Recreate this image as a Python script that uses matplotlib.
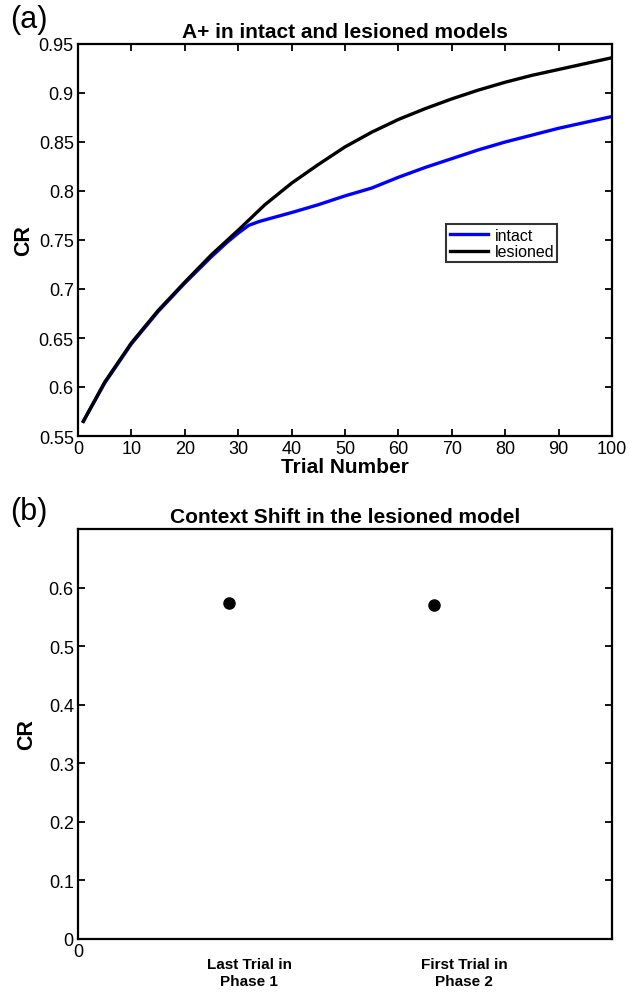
import matplotlib
matplotlib.use("Agg")
import matplotlib.pyplot as plt
import matplotlib.transforms as mtransforms

plt.rcParams['font.family'] = ['Liberation Sans', 'DejaVu Sans']

# ---- Panel (a) data ----
trials_lesioned = [1, 5, 10, 15, 20, 25, 30, 35, 40, 45, 50, 55, 60, 65, 70, 75, 80, 85, 90, 95, 100]
cr_lesioned = [0.565, 0.605, 0.645, 0.678, 0.707, 0.735, 0.760, 0.786, 0.808, 0.827, 0.845,
               0.860, 0.873, 0.884, 0.894, 0.903, 0.911, 0.918, 0.924, 0.930, 0.936]
trials_intact = [1, 5, 10, 15, 20, 25, 28, 30, 32, 34, 36, 40, 45, 50, 55, 60, 65, 70, 75, 80, 85, 90, 95, 100]
cr_intact = [0.565, 0.604, 0.644, 0.677, 0.706, 0.733, 0.748, 0.757, 0.765, 0.769, 0.772, 0.778,
             0.786, 0.795, 0.803, 0.814, 0.824, 0.833, 0.842, 0.850, 0.857, 0.864, 0.870, 0.876]
xticks_a = [0, 10, 20, 30, 40, 50, 60, 70, 80, 90, 100]
yticks_a = [0.55, 0.6, 0.65, 0.7, 0.75, 0.8, 0.85, 0.9, 0.95]
yticklabels_a = ['0.55', '0.6', '0.65', '0.7', '0.75', '0.8', '0.85', '0.9', '0.95']

# ---- Panel (b) data ----
conditions = ['Last Trial in\nPhase 1', 'First Trial in\nPhase 2']
cond_pos = [0.85, 2.0]
label_pos = [0.963, 2.17]
cr_shift = [0.574, 0.571]
yticks_b = [0, 0.1, 0.2, 0.3, 0.4, 0.5, 0.6]
yticklabels_b = ['0', '0.1', '0.2', '0.3', '0.4', '0.5', '0.6']

W, H = 640, 1003
fig = plt.figure(figsize=(W / 100, H / 100), dpi=100)

def rect(l, t, r, b):
    return [l / W, 1 - b / H, (r - l) / W, (b - t) / H]

# Panel (a)
ax1 = fig.add_axes(rect(78, 45, 612, 437))
ax1.plot(trials_intact, cr_intact, color='#0000ff', lw=2.4, label='intact')
ax1.plot(trials_lesioned, cr_lesioned, color='black', lw=2.4, label='lesioned')
ax1.set_xlim(0, 100)
ax1.set_ylim(0.55, 0.95)
ax1.set_xticks(xticks_a)
ax1.set_yticks(yticks_a)
ax1.set_yticklabels(yticklabels_a)
ax1.tick_params(direction='in', top=True, right=True, length=5, width=1.3,
                labelsize=13, pad=3)
for s in ax1.spines.values():
    s.set_linewidth(1.6)
ax1.set_xlabel('Trial Number', fontsize=15, fontweight='bold', labelpad=0)
ax1.set_ylabel('CR', fontsize=15.5, fontweight='bold', labelpad=3)
ax1.set_title('A+ in intact and lesioned models', fontsize=15, fontweight='bold', pad=5)
leg = ax1.legend(loc='lower left', bbox_to_anchor=(0.69, 0.443), fontsize=11.5,
                 frameon=True, fancybox=False, handlelength=2.4, handletextpad=0.4,
                 borderpad=0.2, labelspacing=0.1, borderaxespad=0)
leg.get_frame().set_edgecolor('black')
leg.get_frame().set_linewidth(1.5)
fig.text(10 / W, 1 - 20 / H, '(a)', fontsize=22, va='center', ha='left')

# Panel (b)
ax2 = fig.add_axes(rect(78, 530, 612, 940))
ax2.plot(cond_pos, cr_shift, 'o', color='black', markersize=8)
ax2.set_xlim(0, 3)
ax2.set_ylim(0, 0.7)
ax2.set_yticks(yticks_b)
ax2.set_yticklabels(yticklabels_b)
ax2.set_xticks([0])
ax2.set_xticklabels(['0'])
ax2.tick_params(axis='y', direction='in', right=True, length=5, width=1.3, labelsize=13, pad=3)
ax2.tick_params(axis='x', length=0, labelsize=13, pad=3)
for s in ax2.spines.values():
    s.set_linewidth(1.6)
ax2.set_ylabel('CR', fontsize=15.5, fontweight='bold', labelpad=8)
ax2.set_title('Context Shift in the lesioned model', fontsize=15, fontweight='bold', pad=5)
trans = mtransforms.blended_transform_factory(ax2.transData, ax2.transAxes)
for xp, lab in zip(label_pos, conditions):
    ax2.text(xp, -0.045, lab, transform=trans, ha='center', va='top',
             fontsize=11, fontweight='bold', linespacing=1.25)
fig.text(10 / W, 1 - 512 / H, '(b)', fontsize=22, va='center', ha='left')

fig.savefig('out.png', dpi=100)
